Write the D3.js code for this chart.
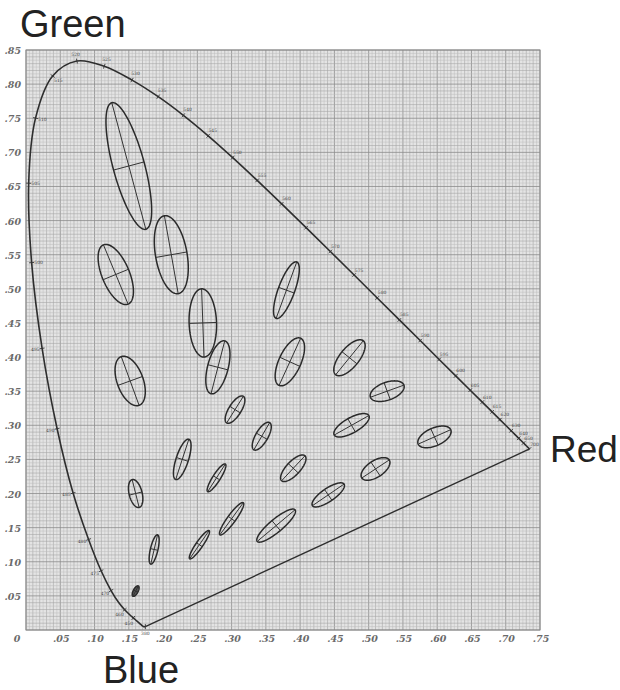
<!DOCTYPE html>
<html>
<head>
<meta charset="utf-8">
<script src="https://cdn.jsdelivr.net/npm/d3@7"></script>
<style>
  html, body { margin: 0; padding: 0; background: #fff; }
  svg { display: block; }
</style>
</head>
<body>
<svg id="chart" width="620" height="690"></svg>
<script>
// CIE 1931 chromaticity diagram with MacAdam ellipses (drawn 10x enlarged)

// Spectral locus, 5 nm steps
const wavelengths = [380,385,390,395,400,405,410,415,420,425,430,435,440,445,450,455,460,465,470,475,
  480,485,490,495,500,505,510,515,520,525,530,535,540,545,550,555,560,565,570,575,580,585,590,595,
  600,605,610,615,620,625,630,635,640,645,650,655,660,665,670,675,680,685,690,695,700];
const locusX = [0.1741,0.1740,0.1738,0.1736,0.1733,0.1730,0.1726,0.1721,0.1714,0.1703,0.1689,0.1669,0.1644,0.1611,0.1566,0.1510,0.1440,0.1355,0.1241,0.1096,
  0.0913,0.0687,0.0454,0.0235,0.0082,0.0039,0.0139,0.0389,0.0743,0.1142,0.1547,0.1929,0.2296,0.2658,0.3016,0.3373,0.3731,0.4087,0.4441,0.4788,0.5125,0.5448,0.5752,0.6029,
  0.6270,0.6482,0.6658,0.6801,0.6915,0.7006,0.7079,0.7140,0.7190,0.7230,0.7260,0.7283,0.7300,0.7311,0.7320,0.7327,0.7334,0.7340,0.7344,0.7346,0.7347];
const locusY = [0.0050,0.0050,0.0049,0.0049,0.0048,0.0048,0.0048,0.0048,0.0051,0.0058,0.0069,0.0086,0.0109,0.0138,0.0177,0.0227,0.0297,0.0399,0.0578,0.0868,
  0.1327,0.2007,0.2950,0.4127,0.5384,0.6548,0.7502,0.8120,0.8338,0.8262,0.8059,0.7816,0.7543,0.7243,0.6923,0.6589,0.6245,0.5896,0.5547,0.5202,0.4866,0.4544,0.4242,0.3965,
  0.3725,0.3514,0.3340,0.3197,0.3083,0.2993,0.2920,0.2859,0.2809,0.2770,0.2740,0.2717,0.2700,0.2689,0.2680,0.2673,0.2666,0.2660,0.2656,0.2654,0.2653];
// Wavelengths that get a tick and a label on the locus
const labelledNm = [380,450,460,470,475,480,485,490,495,500,505,510,515,520,525,530,535,540,545,550,555,560,565,570,
  575,580,585,590,595,600,605,610,615,620,630,640,650,700];

// MacAdam ellipses: centre (x, y), semi-axes a, b (x 10^-3), orientation theta (degrees)
const ellipseX = [0.160,0.187,0.253,0.150,0.131,0.212,0.258,0.152,0.280,0.380,0.160,0.228,0.305,0.385,0.472,0.527,0.475,0.510,0.596,0.344,0.390,0.441,0.278,0.300,0.365];
const ellipseY = [0.057,0.118,0.125,0.680,0.521,0.550,0.450,0.365,0.385,0.498,0.200,0.250,0.323,0.393,0.399,0.350,0.300,0.236,0.283,0.284,0.237,0.198,0.223,0.163,0.153];
const ellipseA = [0.85,2.2,2.5,9.6,4.7,5.8,5.0,3.8,4.0,4.4,2.1,3.1,2.3,3.8,3.2,2.6,2.9,2.4,2.6,2.3,2.5,2.8,2.4,2.9,3.6];
const ellipseB = [0.35,0.55,0.5,2.3,2.0,2.3,2.0,1.9,1.5,1.2,0.95,0.9,0.9,1.6,1.4,1.3,1.1,1.2,1.3,0.9,1.0,0.95,0.55,0.6,0.95];
const ellipseTheta = [62.5,77,55.5,105,112.5,100,92,110,75.5,70,104,72,58,65.5,51,20,29.5,33.5,24,60,47,34.5,57.5,54,40];
const enlargement = 10;

// Axis ticks
const xTicks = [0,0.05,0.10,0.15,0.20,0.25,0.30,0.35,0.40,0.45,0.50,0.55,0.60,0.65,0.70,0.75];
const yTicks = [0,0.05,0.10,0.15,0.20,0.25,0.30,0.35,0.40,0.45,0.50,0.55,0.60,0.65,0.70,0.75,0.80,0.85];

(function draw() {
  const svg = d3.select("#chart");
  const pl = 26, pr = 540, pt = 50, pb = 630;
  const x = d3.scaleLinear().domain([0, 0.75]).range([pl, pr]);
  const y = d3.scaleLinear().domain([0, 0.85]).range([pb, pt]);

  // Graph-paper background
  const plot = svg.append("g");
  plot.append("rect").attr("x", pl).attr("y", pt)
    .attr("width", pr - pl).attr("height", pb - pt).attr("fill", "#e4e4e4");

  function gridStyle(v) {
    const k = Math.round(v * 1000);
    if (k % 50 === 0) return { c: "#8c8c8c", w: 0.8 };
    if (k % 10 === 0) return { c: "#a6a6a6", w: 0.6 };
    return { c: "#bdbdbd", w: 0.5 };
  }
  const gx = d3.range(0, 151).map(i => i * 0.005);
  const gy = d3.range(0, 171).map(i => i * 0.005);
  plot.selectAll("line.gx").data(gx).join("line").attr("class", "gx")
    .attr("x1", d => x(d)).attr("x2", d => x(d)).attr("y1", pt).attr("y2", pb)
    .attr("stroke", d => gridStyle(d).c).attr("stroke-width", d => gridStyle(d).w);
  plot.selectAll("line.gy").data(gy).join("line").attr("class", "gy")
    .attr("y1", d => y(d)).attr("y2", d => y(d)).attr("x1", pl).attr("x2", pr)
    .attr("stroke", d => gridStyle(d).c).attr("stroke-width", d => gridStyle(d).w);
  plot.append("rect").attr("x", pl).attr("y", pt)
    .attr("width", pr - pl).attr("height", pb - pt)
    .attr("fill", "none").attr("stroke", "#8a8a8a").attr("stroke-width", 1);

  // Axis labels (".05" style)
  const fmt = v => v === 0 ? "0" : d3.format(".2f")(v).replace(/^0/, "");
  const tickFont = "'DejaVu Serif', 'Liberation Serif', serif";
  svg.append("g").selectAll("text").data(xTicks).join("text")
    .attr("x", d => d === 0 ? 17 : x(d) + 1).attr("y", 642)
    .attr("text-anchor", "middle").attr("font-family", tickFont)
    .attr("font-style", "italic").attr("font-weight", "bold")
    .attr("font-size", 9.5).attr("fill", "#6a6a6a").text(fmt);
  svg.append("g").selectAll("text").data(yTicks.filter(d => d > 0)).join("text")
    .attr("x", 21).attr("y", d => y(d) + 4)
    .attr("text-anchor", "end").attr("font-family", tickFont)
    .attr("font-style", "italic").attr("font-weight", "bold")
    .attr("font-size", 9.5).attr("fill", "#6a6a6a").text(fmt);

  // Spectral locus (smooth) and straight line of purples
  const locus = wavelengths.map((w, i) => [locusX[i], locusY[i]]);
  const smooth = d3.line().x(d => x(d[0])).y(d => y(d[1])).curve(d3.curveCatmullRom.alpha(0.5));
  const straight = d3.line().x(d => x(d[0])).y(d => y(d[1]));
  svg.append("path").datum(locus)
    .attr("d", smooth).attr("fill", "none")
    .attr("stroke", "#2e2e2e").attr("stroke-width", 1.6).attr("stroke-linejoin", "round");
  svg.append("path").datum([locus[locus.length - 1], locus[0]])
    .attr("d", straight).attr("fill", "none")
    .attr("stroke", "#2e2e2e").attr("stroke-width", 1.4);

  // Wavelength ticks and labels
  const wx = 0.33, wy = 0.33;
  const marks = svg.append("g");
  labelledNm.forEach(nm => {
    const i = wavelengths.indexOf(nm);
    const p = locus[i];
    const a = locus[Math.max(0, i - 1)], b = locus[Math.min(locus.length - 1, i + 1)];
    let tx = x(b[0]) - x(a[0]), ty = y(b[1]) - y(a[1]);
    const tl = Math.hypot(tx, ty) || 1; tx /= tl; ty /= tl;
    let nx = -ty, ny = tx;
    // point the normal away from the white point
    const ox = x(p[0]) - x(wx), oy = y(p[1]) - y(wy);
    if (nx * ox + ny * oy < 0) { nx = -nx; ny = -ny; }
    if (nm === 380) { nx = 0; ny = 1; }
    const px = x(p[0]), py = y(p[1]);
    marks.append("line")
      .attr("x1", px - nx * 2.5).attr("y1", py - ny * 2.5)
      .attr("x2", px + nx * 2.5).attr("y2", py + ny * 2.5)
      .attr("stroke", "#333").attr("stroke-width", 0.9);
    const inside = (p[0] < 0.05 && p[1] > 0.5);
    const s = inside ? -7 : 7;
    marks.append("text")
      .attr("x", px + nx * s).attr("y", py + ny * s + 1.5)
      .attr("text-anchor", "middle")
      .attr("font-family", "'DejaVu Serif', serif").attr("font-size", 4.5)
      .attr("fill", "#444").text(nm);
  });

  // MacAdam ellipses with their major and minor axes
  const eg = svg.append("g");
  const ellipseLine = d3.line().x(d => x(d[0])).y(d => y(d[1])).curve(d3.curveLinearClosed);
  ellipseX.forEach((ex, i) => {
    const ey = ellipseY[i];
    const a = ellipseA[i] * 1e-3 * enlargement;
    const b = ellipseB[i] * 1e-3 * enlargement;
    const t = ellipseTheta[i] * Math.PI / 180;
    const ux = Math.cos(t), uy = Math.sin(t), vx = -Math.sin(t), vy = Math.cos(t);
    const pts = d3.range(0, 120).map(k => {
      const s = k / 120 * 2 * Math.PI;
      return [ex + a * Math.cos(s) * ux + b * Math.sin(s) * vx,
              ey + a * Math.cos(s) * uy + b * Math.sin(s) * vy];
    });
    eg.append("path").attr("d", ellipseLine(pts))
      .attr("fill", i === 0 ? "#555" : "none")
      .attr("stroke", "#2a2a2a").attr("stroke-width", 1.5);
    eg.append("line")
      .attr("x1", x(ex - a * ux)).attr("y1", y(ey - a * uy))
      .attr("x2", x(ex + a * ux)).attr("y2", y(ey + a * uy))
      .attr("stroke", "#333").attr("stroke-width", 1);
    eg.append("line")
      .attr("x1", x(ex - b * vx)).attr("y1", y(ey - b * vy))
      .attr("x2", x(ex + b * vx)).attr("y2", y(ey + b * vy))
      .attr("stroke", "#333").attr("stroke-width", 1);
  });

  // Corner names
  const nameFont = "'Liberation Sans', Arial, sans-serif";
  const names = [["Green", 20, 37, 38], ["Red", 550, 462, 37], ["Blue", 103, 683, 38]];
  svg.append("g").selectAll("text").data(names).join("text")
    .attr("x", d => d[1]).attr("y", d => d[2])
    .attr("font-family", nameFont).attr("font-size", d => d[3]).attr("fill", "#222")
    .text(d => d[0]);
})();
</script>
</body>
</html>
